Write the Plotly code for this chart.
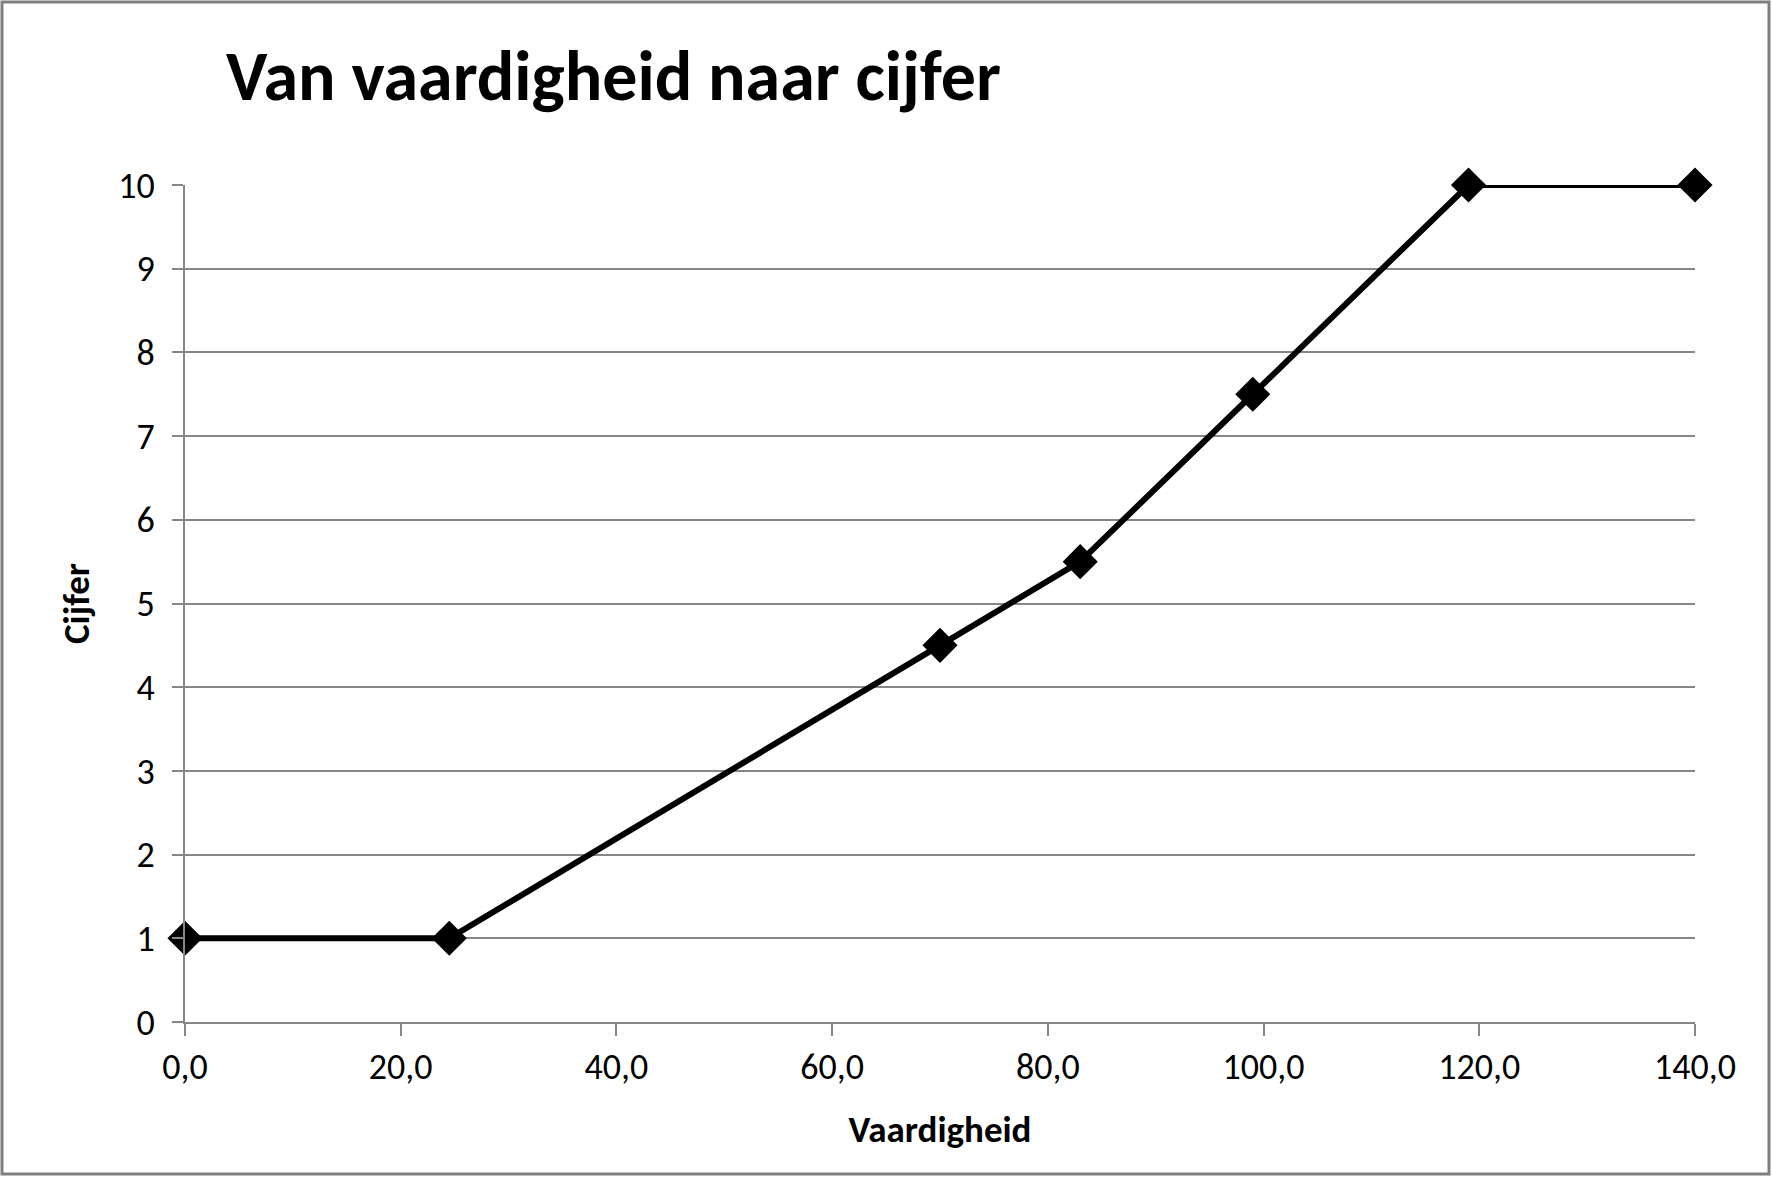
import plotly.graph_objects as go

vaardigheid = [0, 24.5, 70, 83, 99, 119, 140]
cijfer = [1, 1, 4.5, 5.5, 7.5, 10, 10]
x_ticks = [0, 20, 40, 60, 80, 100, 120, 140]
x_tick_labels = ["0,0", "20,0", "40,0", "60,0", "80,0", "100,0", "120,0", "140,0"]
y_ticks = list(range(0, 11))

W, H = 1772, 1177
L, R, T, B = 185, 77, 185, 155
FONT = "Carlito, Lato, sans-serif"
GRID = "#868686"

fig = go.Figure()
fig.add_trace(go.Scatter(
    x=vaardigheid, y=cijfer, mode="lines+markers",
    line=dict(color="black", width=6),
    marker=dict(symbol="diamond", size=27, color="black"),
    cliponaxis=False, showlegend=False,
))

pw, ph = W - L - R, H - T - B
fig.update_layout(
    width=W, height=H,
    margin=dict(l=L, r=R, t=T, b=B, autoexpand=False),
    paper_bgcolor="white", plot_bgcolor="white",
    font=dict(family=FONT, color="black", size=36),
    title=dict(text="<b>Van vaardigheid naar cijfer</b>", xref="container", yref="container",
               x=226 / W, y=1 - 75 / H, xanchor="left", yanchor="middle",
               font=dict(family=FONT, size=70, color="black")),
    xaxis=dict(range=[0, 140], tickvals=x_ticks, ticktext=x_tick_labels,
               showgrid=False, zeroline=False, showline=True, linecolor=GRID, linewidth=2,
               ticks="outside", ticklen=12, tickcolor=GRID, tickwidth=2,
               tickfont=dict(size=36),
               title=dict(text="<b>Vaardigheid</b>", font=dict(size=37), standoff=28)),
    yaxis=dict(range=[0, 10], tickvals=y_ticks,
               showgrid=True, gridcolor=GRID, gridwidth=2, zeroline=False,
               showline=True, linecolor=GRID, linewidth=2,
               ticks="outside", ticklen=11, tickcolor=GRID, tickwidth=2,
               tickfont=dict(size=36), ticklabelstandoff=10,
               title=dict(text="<b>Cijfer</b>", font=dict(size=37), standoff=17)),
    shapes=[dict(type="rect", xref="paper", yref="paper",
                 x0=-(L - 2) / pw, x1=1 + (R - 3) / pw,
                 y0=-(B - 3) / ph, y1=1 + (T - 2) / ph,
                 line=dict(color="#7f7f7f", width=3), fillcolor="rgba(0,0,0,0)")],
)

fig.write_html("out.html", config={"displayModeBar": False},
               post_script="document.body.style.margin='0';document.body.style.overflow='hidden';")
